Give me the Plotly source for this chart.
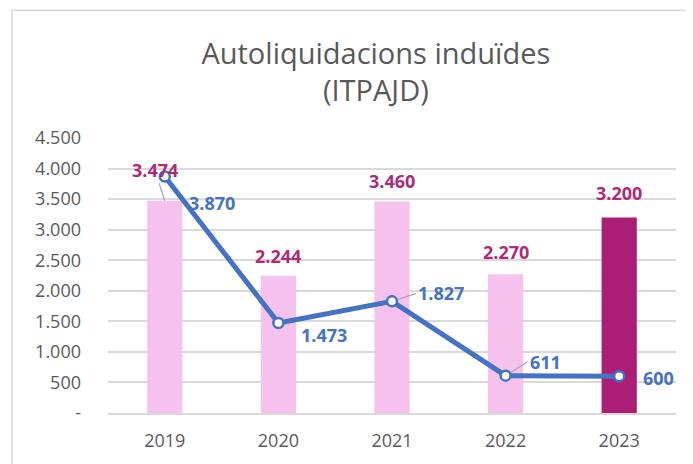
import plotly.graph_objects as go

years = ["2019", "2020", "2021", "2022", "2023"]
bar_values = [3474, 2244, 3460, 2270, 3200]
line_values = [3870, 1473, 1827, 611, 600]
bar_colors = ["#F5C2EE", "#F5C2EE", "#F5C2EE", "#F5C2EE", "#AA1F75"]
y_tickvals = [0, 500, 1000, 1500, 2000, 2500, 3000, 3500, 4000, 4500]
y_ticktext = ["-", "500", "1.000", "1.500", "2.000", "2.500", "3.000", "3.500", "4.000", "4.500"]
title_text = "Autoliquidacions induïdes<br>(ITPAJD)"


def fmt(v):
    return f"{v:,}".replace(",", ".")


BAR_LABEL = "#AE2A78"
LINE_COL = "#4472C4"
GRAY = "#595959"
FONT = "Open Sans"

fig = go.Figure()
fig.add_trace(go.Bar(x=years, y=bar_values, marker=dict(color=bar_colors, line=dict(width=0)),
                     width=0.31, showlegend=False, hoverinfo="skip"))
fig.add_trace(go.Scatter(x=years, y=line_values, mode="lines+markers",
                         line=dict(color=LINE_COL, width=5),
                         marker=dict(size=10, color="white", line=dict(color=LINE_COL, width=2.5)),
                         showlegend=False, hoverinfo="skip"))

# bar label offsets (style only); annotation x uses the category index
bar_shift = [None, 20, 21, 22, 24]
for i, v in enumerate(bar_values):
    if bar_shift[i] is None:
        fig.add_annotation(x=i, y=v, text=f"<b>{fmt(v)}</b>", showarrow=True,
                           ax=-10, ay=-31, xanchor="center", yanchor="middle",
                           arrowhead=0, arrowwidth=1.2, arrowcolor="#A6A6A6", standoff=0,
                           font=dict(family=FONT, size=18, color=BAR_LABEL))
    else:
        fig.add_annotation(x=i, y=v, text=f"<b>{fmt(v)}</b>", showarrow=False,
                           yshift=bar_shift[i], xanchor="center", yanchor="middle",
                           font=dict(family=FONT, size=18, color=BAR_LABEL))

# line label offsets (style only): (xshift, yshift, leader)
line_off = [(22, -26, False), (21, -12, False), (24, 8, True), (22, 14, True), (22, -2, False)]
for i, (v, (dx, dy, lead)) in enumerate(zip(line_values, line_off)):
    if lead:
        fig.add_annotation(x=i, y=v, text=f"<b>{fmt(v)}</b>", showarrow=True,
                           ax=dx, ay=-dy, xanchor="left", yanchor="middle",
                           arrowhead=0, arrowwidth=1.2, arrowcolor="#A6A6A6", standoff=6,
                           font=dict(family=FONT, size=18, color=LINE_COL))
    else:
        fig.add_annotation(x=i, y=v, text=f"<b>{fmt(v)}</b>", showarrow=False,
                           xshift=dx, yshift=dy, xanchor="left", yanchor="middle",
                           font=dict(family=FONT, size=18, color=LINE_COL))

# chart border
fig.add_shape(type="rect", xref="paper", yref="paper", x0=-0.169, x1=1.3, y0=-0.6, y1=1.465,
              line=dict(color="#D9D9D9", width=1.5), fillcolor="rgba(0,0,0,0)", layer="below")

fig.update_layout(
    width=685, height=456,
    margin=dict(l=100, r=17, t=130, b=51, autoexpand=False),
    paper_bgcolor="white", plot_bgcolor="white",
    title=dict(text=title_text, x=0.537, xanchor="center", y=0.878, yanchor="top",
               xref="container", yref="container", automargin=False,
               font=dict(family=FONT, size=29, color=GRAY)),
)
fig.update_xaxes(type="category", range=[-0.5, 4.5], showgrid=False, showline=True,
                 linecolor="#D9D9D9", linewidth=1.5, automargin=False,
                 tickfont=dict(family=FONT, size=18, color=GRAY), ticks="",
                 ticklabelstandoff=11)
fig.update_yaxes(range=[0, 4500], tickvals=y_tickvals, ticktext=y_ticktext,
                 showgrid=True, gridcolor="#D9D9D9", gridwidth=1.5, zeroline=False,
                 showline=False, ticks="", ticklabelstandoff=26, automargin=False,
                 tickfont=dict(family=FONT, size=18, color=GRAY))

fig.write_html("out.html")
